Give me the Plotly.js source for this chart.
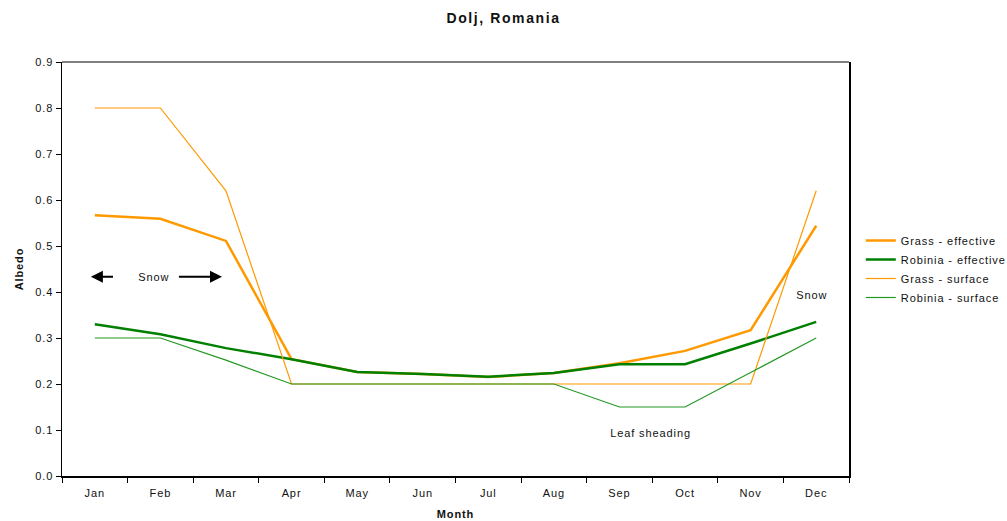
<!DOCTYPE html>
<html><head><meta charset="utf-8">
<script src="https://cdn.plot.ly/plotly-3.0.1.min.js"></script>
<style>body{margin:0;background:#fff}#chart{width:1007px;height:521px}
#chart text{letter-spacing:0.9px}
#chart text.gtitle{letter-spacing:1.6px}
#chart g.legend g.scrollbox{clip-path:none !important}
</style>
</head><body><div id="chart"></div>
<script>
const months = ['Jan','Feb','Mar','Apr','May','Jun','Jul','Aug','Sep','Oct','Nov','Dec'];
const grassEffective   = [0.567,0.559,0.511,0.254,0.226,0.222,0.215,0.224,0.245,0.272,0.317,0.544];
const robiniaEffective = [0.330,0.308,0.278,0.254,0.226,0.222,0.216,0.224,0.243,0.243,0.288,0.335];
const grassSurface     = [0.80,0.80,0.62,0.20,0.20,0.20,0.20,0.20,0.20,0.20,0.20,0.62];
const robiniaSurface   = [0.30,0.30,0.252,0.20,0.20,0.20,0.20,0.20,0.15,0.15,0.225,0.30];
const yTicks = [0,0.1,0.2,0.3,0.4,0.5,0.6,0.7,0.8,0.9];

const font = 'Liberation Sans, Arial, sans-serif';
const traces = [
  {x: months, y: grassEffective, name: 'Grass - effective', mode: 'lines', line: {color: '#FF9900', width: 2.5}},
  {x: months, y: robiniaEffective, name: 'Robinia - effective', mode: 'lines', line: {color: '#008000', width: 2.5}},
  {x: months, y: grassSurface, name: 'Grass - surface', mode: 'lines', line: {color: '#FF9900', width: 1.2}},
  {x: months, y: robiniaSurface, name: 'Robinia - surface', mode: 'lines', line: {color: '#229922', width: 1.2}}
];
const layout = {
  width: 1007, height: 521,
  margin: {l: 62, r: 158, t: 62, b: 45},
  paper_bgcolor: '#fff', plot_bgcolor: '#fff',
  font: {family: font, size: 11, color: '#111'},
  title: {text: '<b>Dolj, Romania</b>', font: {family: font, size: 14, color: '#111'}, x: 0.5, xanchor: 'center', y: 0.965, yanchor: 'middle'},
  xaxis: {
    type: 'category', categoryorder: 'array', categoryarray: months,
    range: [-0.5, 11.5], tickson: 'boundaries', ticks: 'outside', ticklen: 5, tickcolor: '#000',
    ticklabelstandoff: 6,
    showline: true, linecolor: '#000', linewidth: 1.5, showgrid: false, zeroline: false,
    tickfont: {family: font, size: 11, color: '#111'},
    title: {text: '<b>Month</b>', font: {family: font, size: 11, color: '#111'}, standoff: 12}
  },
  yaxis: {
    range: [0, 0.9], tickvals: yTicks, tickformat: '.1f', ticks: 'outside', ticklen: 5, tickcolor: '#000',
    showline: true, linecolor: '#000', linewidth: 1.5, mirror: true, showgrid: false, zeroline: false,
    tickfont: {family: font, size: 11, color: '#111'},
    title: {text: '<b>Albedo</b>', font: {family: font, size: 11, color: '#111'}, standoff: 12}
  },
  shapes: [
    {type: 'line', xref: 'paper', yref: 'paper', x0: 0, x1: 1, y0: 1, y1: 1, line: {color: '#808080', width: 2}}
  ],
  legend: {
    x: 1.015, xanchor: 'left', y: 0.5, yanchor: 'middle',
    font: {family: font, size: 11, color: '#111'},
    bgcolor: 'rgba(0,0,0,0)', tracegroupgap: 2, itemwidth: 30
  },
  annotations: [
    {x: 0.91, y: 0.433, xref: 'x', yref: 'y', text: 'Snow', showarrow: false, font: {family: font, size: 11, color: '#111'}},
    {x: -0.06, y: 0.433, ax: 0.3, ay: 0.433, xref: 'x', yref: 'y', axref: 'x', ayref: 'y', text: '', showarrow: true, arrowhead: 2, arrowsize: 1.2, arrowwidth: 2, arrowcolor: '#000'},
    {x: 1.94, y: 0.433, ax: 1.26, ay: 0.433, xref: 'x', yref: 'y', axref: 'x', ayref: 'y', text: '', showarrow: true, arrowhead: 2, arrowsize: 1.2, arrowwidth: 2, arrowcolor: '#000'},
    {x: 10.93, y: 0.393, xref: 'x', yref: 'y', text: 'Snow', showarrow: false, font: {family: font, size: 11, color: '#111'}},
    {x: 8.48, y: 0.093, xref: 'x', yref: 'y', text: 'Leaf sheading', showarrow: false, font: {family: font, size: 11, color: '#111'}}
  ]
};
Plotly.newPlot('chart', traces, layout, {displayModeBar: false, staticPlot: true});
</script></body></html>
